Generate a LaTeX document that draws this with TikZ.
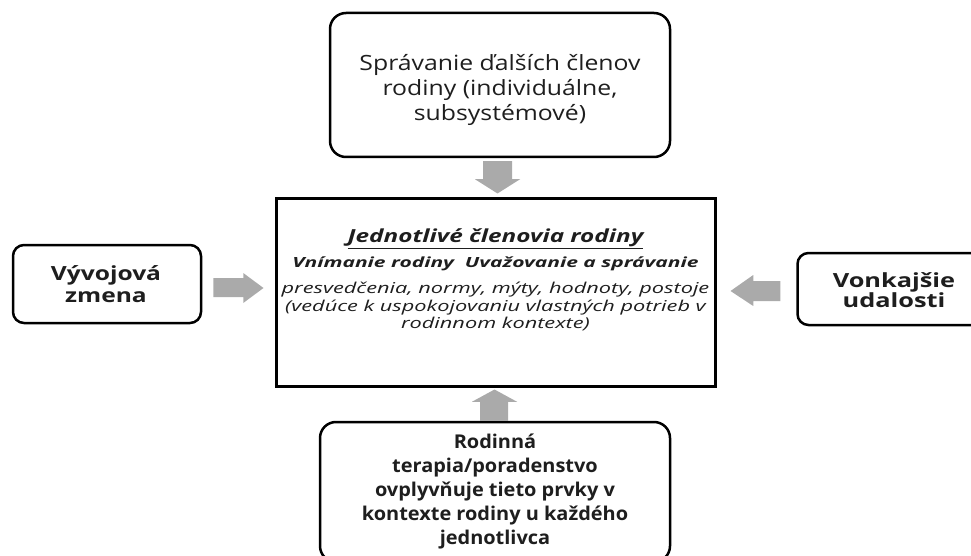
\documentclass[tikz,border=0pt]{standalone}
\usepackage{fontspec}
\usepackage{graphicx}
\setmainfont{Open Sans}
\usetikzlibrary{calc}
\definecolor{arrowgray}{RGB}{170,170,170}
\definecolor{ink}{RGB}{30,30,30}
% centred lines, stretched horizontally by #1
\newcommand\widen[2]{\scalebox{#1}[1]{\begin{tabular}{@{}c@{}}#2\end{tabular}}}
\begin{document}
\begin{tikzpicture}[x=1pt,y=-1pt,
  rbox/.style={draw=black, line width=2.5pt, rounded corners=#1, fill=white, inner sep=0pt},
  rbox/.default=16pt,
  sqbox/.style={draw=black, line width=3pt, fill=white, inner sep=0pt},
  txt/.style={text=ink, align=center, inner sep=0pt},
  arrowfill/.style={fill=arrowgray, draw=none}]
\useasboundingbox (0,0) rectangle (971,556);
\clip (0,0) rectangle (971,556);

% boxes
\node[rbox, minimum width=340pt, minimum height=144pt] (top) at (500,85) {};
\node[sqbox, minimum width=439pt, minimum height=188pt] (mid) at (495.5,292) {};
\node[rbox=11pt, minimum width=188pt, minimum height=78pt] (left) at (107,284) {};
\node[rbox=11pt, minimum width=187pt, minimum height=72pt] (right) at (891,289) {};
\node[rbox, minimum width=350pt, minimum height=140pt] (bot) at (495,492) {};

% texts
\node[txt, font=\fontsize{21}{25}\selectfont] (toptext) at ($(top)+(0,6)$)
  {\widen{1.18}{Správanie ďalších členov\\rodiny (individuálne,\\subsystémové)}};
\node[txt, font=\fontsize{18}{22}\selectfont\bfseries\itshape] (title) at ($(mid.north)+(0,41.6)$)
  {\widen{1.35}{\underline{Jednotlivé členovia rodiny}}};
\node[txt, font=\fontsize{14}{17}\selectfont\bfseries\itshape] (sub) at ($(mid.north)+(0,67.6)$)
  {\widen{1.5}{Vnímanie rodiny\ \ Uvažovanie a správanie}};
\node[txt, font=\fontsize{15}{17.5}\selectfont\itshape] (body) at ($(mid.north)+(0,111)$)
  {\widen{1.45}{presvedčenia, normy, mýty, hodnoty, postoje\\(vedúce k uspokojovaniu vlastných potrieb v\\rodinnom kontexte)}};
\node[txt, font=\fontsize{19.5}{22}\selectfont\bfseries] (lefttext) at ($(left)+(-1,2.6)$)
  {\widen{1.26}{Vývojová\\zmena}};
\node[txt, font=\fontsize{19.5}{20}\selectfont\bfseries] (righttext) at ($(right)+(3,4)$)
  {\widen{1.3}{Vonkajšie\\udalosti}};
\node[txt, font=\fontsize{19}{24}\selectfont\bfseries] (bottext) at ($(bot)+(0,0)$)
  {\widen{1.05}{Rodinná\\terapia/poradenstvo\\ovplyvňuje tieto prvky v\\kontexte rodiny u každého\\jednotlivca}};

% block arrows between the boxes
\fill[arrowfill] ($(top.south)+(-17,3)$) -- ($(top.south)+(12,3)$) -- ($(top.south)+(12,21)$)
  -- ($(top.south)+(20,21)$) -- ($(mid.north)+(2,-3)$) -- ($(top.south)+(-25,21)$)
  -- ($(top.south)+(-17,21)$) -- cycle;
\fill[arrowfill] ($(bot.north)+(-15,0)$) -- ($(bot.north)+(13,0)$) -- ($(bot.north)+(13,-19)$)
  -- ($(bot.north)+(22,-19)$) -- ($(mid.south)+(-1,2)$) -- ($(bot.north)+(-23,-19)$)
  -- ($(bot.north)+(-15,-19)$) -- cycle;
\fill[arrowfill] ($(left.east)+(11,-6)$) -- ($(left.east)+(41,-6)$) -- ($(left.east)+(41,-11)$)
  -- ($(mid.west)+(-11,-4)$) -- ($(left.east)+(41,19)$) -- ($(left.east)+(41,13)$)
  -- ($(left.east)+(11,13)$) -- cycle;
\fill[arrowfill] ($(right.west)+(-16,-8)$) -- ($(right.west)+(-43,-8)$) -- ($(right.west)+(-43,-14)$)
  -- ($(mid.east)+(14,-1)$) -- ($(right.west)+(-43,17)$) -- ($(right.west)+(-43,12)$)
  -- ($(right.west)+(-16,12)$) -- cycle;
\end{tikzpicture}
\end{document}
